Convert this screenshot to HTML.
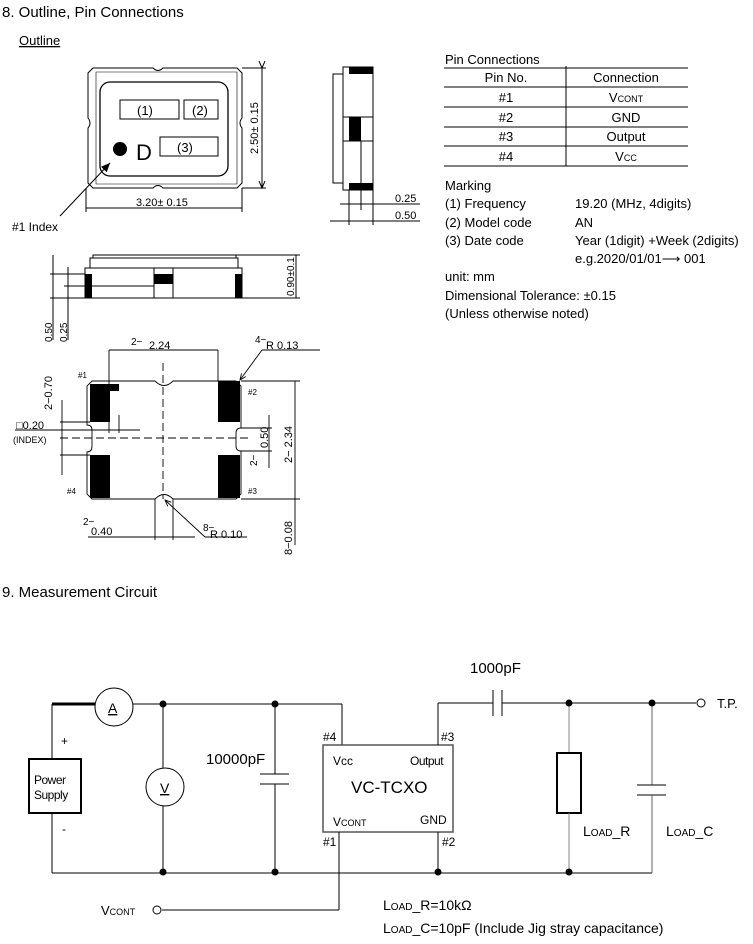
<!DOCTYPE html>
<html><head><meta charset="utf-8"><style>
body{margin:0;background:#fff}
svg{display:block}
text{font-family:"Liberation Sans",Arial,sans-serif;fill:#000}
</style></head><body>
<svg width="753" height="944" viewBox="0 0 753 944" xmlns="http://www.w3.org/2000/svg">
<defs>
<marker id="ar" markerWidth="8" markerHeight="8" refX="7" refY="4" orient="auto"><path d="M0,1 L7,4 L0,7" fill="none" stroke="#000" stroke-width="1"/></marker>
<marker id="af" markerWidth="10" markerHeight="8" refX="9" refY="4" orient="auto"><path d="M0,0 L9,4 L0,8 z" fill="#000"/></marker>
</defs>
<text x="2" y="17" font-size="15">8. Outline, Pin Connections</text>
<text x="19" y="45" font-size="13" text-decoration="underline">Outline</text>

<!-- top view -->
<g fill="none" stroke="#000" stroke-width="1">
<path d="M93,68 H153 Q158,73 163,68 H237 L242,73 V118 Q238,123 242,128 V183 L237,188 H163 Q158,183 153,188 H93 L88,183 V128 Q92,123 88,118 V73 Z"/>
<path d="M96,72 H237 V184 H96 Z" stroke-width="0.6"/>
<rect x="100" y="82" width="128" height="94" rx="10" stroke-width="1.3"/>
<rect x="120" y="100" width="59" height="19"/>
<rect x="184" y="100" width="34" height="19"/>
<rect x="160" y="137" width="58" height="19"/>
<line x1="242" y1="68" x2="266" y2="68"/><line x1="242" y1="188" x2="266" y2="188"/>
<line x1="262" y1="68" x2="262" y2="188" marker-start="url(#ar)" marker-end="url(#ar)"/>
<line x1="86" y1="188" x2="86" y2="212"/><line x1="242" y1="188" x2="242" y2="212"/>
<line x1="86" y1="208" x2="242" y2="208"/>
<line x1="60" y1="216" x2="110" y2="163" marker-end="url(#af)"/>
</g>
<circle cx="120" cy="149" r="7" fill="#000"/>
<text x="136" y="160" font-size="22">D</text>
<text x="137" y="115" font-size="13">(1)</text>
<text x="192" y="115" font-size="13">(2)</text>
<text x="177" y="152" font-size="13">(3)</text>
<text x="136" y="206" font-size="11">3.20± 0.15</text>
<text transform="translate(258,154) rotate(-90)" font-size="11">2.50± 0.15</text>
<text x="12" y="231" font-size="12">#1 Index</text>

<!-- side view -->
<g fill="none" stroke="#000" stroke-width="1">
<rect x="333" y="74" width="10" height="109"/>
<rect x="343" y="67" width="30" height="123"/>
<line x1="343" y1="117" x2="373" y2="117"/><line x1="343" y1="141" x2="373" y2="141"/>
<line x1="361" y1="141" x2="361" y2="210"/>
<line x1="349" y1="190" x2="349" y2="225"/><line x1="373" y1="190" x2="373" y2="225"/>
<line x1="340" y1="204" x2="420" y2="204"/><line x1="330" y1="221" x2="420" y2="221"/>
</g>
<rect x="349" y="67" width="24" height="7"/><rect x="349" y="183" width="24" height="7"/>
<rect x="349" y="117" width="12" height="24"/>
<text x="395" y="202" font-size="11">0.25</text>
<text x="395" y="219" font-size="11">0.50</text>

<!-- front view -->
<g fill="none" stroke="#000" stroke-width="1">
<rect x="93" y="255" width="143" height="3"/>
<rect x="90" y="258" width="148" height="10"/>
<rect x="85" y="268" width="157" height="30"/>
<line x1="92" y1="286" x2="154" y2="286"/>
<line x1="154" y1="268" x2="154" y2="298"/><line x1="173" y1="268" x2="173" y2="298"/>
<line x1="236" y1="255" x2="300" y2="255"/><line x1="242" y1="298" x2="300" y2="298"/>
<line x1="296" y1="255" x2="296" y2="298"/>
<line x1="50" y1="274" x2="85" y2="274"/><line x1="50" y1="298" x2="85" y2="298"/><line x1="64" y1="286" x2="92" y2="286"/>
<line x1="53" y1="255" x2="53" y2="340"/><line x1="68" y1="267" x2="68" y2="340"/>
</g>
<rect x="85" y="274" width="7" height="24"/><rect x="154" y="274" width="19" height="10"/><rect x="235" y="274" width="7" height="24"/>
<text transform="translate(294,296) rotate(-90)" font-size="10">0.90±0.1</text>
<text transform="translate(52,342) rotate(-90)" font-size="10">0.50</text>
<text transform="translate(67,342) rotate(-90)" font-size="10">0.25</text>

<!-- bottom view -->
<g fill="none" stroke="#000" stroke-width="0.9">
<path d="M92,381 H155 Q164,390 173,381 H236 L241,386 V428 Q236,428 236,433 V446 Q236,451 241,451 V494 L236,499 H173 Q164,490 155,499 H92 L87,494 V452 Q92,452 92,446 V430 Q92,425 87,425 V386 Z"/>
<line x1="163" y1="363" x2="163" y2="499" stroke-dasharray="8,4"/>
<line x1="60" y1="438" x2="250" y2="438" stroke-dasharray="8,4"/>
<line x1="109" y1="350" x2="109" y2="433"/><line x1="218" y1="350" x2="218" y2="381"/>
<line x1="109" y1="350" x2="218" y2="350"/>
<line x1="241" y1="381" x2="300" y2="381"/><line x1="241" y1="499" x2="300" y2="499"/>
<line x1="295" y1="381" x2="295" y2="545"/>
<line x1="241" y1="428" x2="272" y2="428"/><line x1="241" y1="451" x2="272" y2="451"/>
<line x1="269" y1="415" x2="269" y2="468"/>
<line x1="60" y1="422" x2="90" y2="422"/><line x1="60" y1="455" x2="90" y2="455"/>
<line x1="62" y1="400" x2="62" y2="475"/>
<line x1="15" y1="430" x2="140" y2="430"/>
<line x1="119" y1="415" x2="119" y2="433"/>
<line x1="155" y1="499" x2="155" y2="540"/><line x1="173" y1="499" x2="173" y2="540"/>
<line x1="88" y1="537" x2="195" y2="537"/>
<line x1="205" y1="537" x2="247" y2="537"/><line x1="205" y1="537" x2="165" y2="500" marker-end="url(#ar)"/>
<line x1="320" y1="350" x2="262" y2="350"/><line x1="262" y1="350" x2="240" y2="380" marker-end="url(#ar)"/>
</g>
<path d="M90,384 H119 V391 H110 V422 H90 Z"/>
<rect x="90" y="455" width="20" height="43"/>
<rect x="218" y="381" width="22" height="41"/>
<rect x="218" y="455" width="22" height="43"/>
<g font-size="10">
<text x="131" y="345">2−</text><text x="149" y="349" font-size="11">2.24</text>
<text x="255" y="343">4−</text><text x="266" y="349" font-size="11">R 0.13</text>
<text x="78" y="378" font-size="8">#1</text><text x="248" y="395" font-size="8">#2</text>
<text x="67" y="494" font-size="8">#4</text><text x="248" y="494" font-size="8">#3</text>
<text x="16" y="429" font-size="11">□0.20</text>
<text x="13" y="443" font-size="9">(INDEX)</text>
<text transform="translate(52,410) rotate(-90)" font-size="11">2−0.70</text>
<text transform="translate(268,448) rotate(-90)" font-size="11">0.50</text>
<text transform="translate(257,466) rotate(-90)">2−</text>
<text transform="translate(292,463) rotate(-90)" font-size="11">2− 2.34</text>
<text x="83" y="525">2−</text><text x="91" y="535" font-size="11">0.40</text>
<text x="203" y="531">8−</text><text x="210" y="538" font-size="11">R 0.10</text>
<text transform="translate(292,555) rotate(-90)" font-size="11">8−0.08</text>
</g>

<!-- pin table -->
<text x="445" y="64" font-size="13">Pin Connections</text>
<g stroke="#000" stroke-width="1">
<line x1="444" y1="68" x2="688" y2="68"/>
<line x1="444" y1="87" x2="688" y2="87"/>
<line x1="444" y1="107" x2="688" y2="107"/>
<line x1="444" y1="127" x2="688" y2="127"/>
<line x1="444" y1="146" x2="688" y2="146"/>
<line x1="444" y1="166" x2="688" y2="166"/>
<line x1="566" y1="66" x2="566" y2="166"/>
</g>
<g font-size="13" text-anchor="middle">
<text x="506" y="82">Pin No.</text><text x="626" y="82">Connection</text>
<text x="506" y="102">#1</text><text x="626" y="102">V<tspan font-size="9">CONT</tspan></text>
<text x="506" y="122">#2</text><text x="626" y="122">GND</text>
<text x="506" y="141">#3</text><text x="626" y="141">Output</text>
<text x="506" y="161">#4</text><text x="626" y="161">V<tspan font-size="9">CC</tspan></text>
</g>
<g font-size="13">
<text x="445" y="190">Marking</text>
<text x="445" y="208">(1) Frequency</text><text x="575" y="208">19.20 (MHz, 4digits)</text>
<text x="445" y="227">(2) Model code</text><text x="575" y="227">AN</text>
<text x="445" y="245">(3) Date code</text><text x="575" y="245">Year (1digit) +Week (2digits)</text>
<text x="575" y="263">e.g.2020/01/01⟶ 001</text>
<text x="445" y="281">unit: mm</text>
<text x="445" y="300">Dimensional Tolerance: ±0.15</text>
<text x="445" y="318">(Unless otherwise noted)</text>
</g>

<!-- circuit -->
<text x="2" y="597" font-size="15">9. Measurement Circuit</text>
<g fill="none" stroke="#000" stroke-width="1">
<line x1="52" y1="704" x2="52" y2="759"/>
<line x1="52" y1="704" x2="95" y2="704" stroke-width="3"/>
<circle cx="114" cy="707" r="19"/>
<line x1="133" y1="704" x2="342" y2="704"/>
<line x1="342" y1="704" x2="342" y2="745"/>
<rect x="29" y="759" width="52" height="54" stroke-width="2"/>
<line x1="52" y1="813" x2="52" y2="873"/>
<line x1="52" y1="873" x2="652" y2="873"/>
<line x1="163" y1="704" x2="163" y2="768"/><circle cx="165" cy="787" r="19"/><line x1="163" y1="806" x2="163" y2="873"/>
<line x1="275" y1="704" x2="275" y2="774"/><line x1="260" y1="774" x2="289" y2="774"/><line x1="260" y1="784" x2="289" y2="784"/><line x1="275" y1="784" x2="275" y2="873"/>
<rect x="323" y="745" width="130" height="87" stroke="#555" stroke-width="1.5"/>
<line x1="339" y1="832" x2="339" y2="910"/><line x1="162" y1="910" x2="339" y2="910"/>
<circle cx="157" cy="910" r="4"/>
<line x1="438" y1="832" x2="438" y2="873"/>
<line x1="438" y1="703" x2="438" y2="745"/>
<line x1="438" y1="703" x2="493" y2="703"/>
<line x1="493" y1="690" x2="493" y2="716"/><line x1="502" y1="690" x2="502" y2="716"/>
<line x1="502" y1="703" x2="696" y2="703"/><circle cx="701" cy="703" r="4"/>
<line x1="569" y1="703" x2="569" y2="753" stroke="#888"/><rect x="557" y="753" width="24" height="60" stroke-width="2"/><line x1="569" y1="813" x2="569" y2="873" stroke="#888"/>
<line x1="652" y1="703" x2="652" y2="785" stroke="#666"/><line x1="637" y1="785" x2="666" y2="785"/><line x1="637" y1="795" x2="666" y2="795"/><line x1="652" y1="795" x2="652" y2="873" stroke="#666"/>
</g>
<g fill="#000">
<circle cx="163" cy="704" r="3.5"/><circle cx="275" cy="704" r="3.5"/>
<circle cx="163" cy="872" r="3.5"/><circle cx="275" cy="872" r="3.5"/>
<circle cx="438" cy="872" r="3.5"/><circle cx="569" cy="872" r="3.5"/>
<circle cx="569" cy="703" r="3.5"/><circle cx="652" cy="703" r="3.5"/>
</g>
<text x="108" y="713" font-size="14" text-decoration="underline">A</text>
<text x="160" y="793" font-size="14" text-decoration="underline">V</text>
<text x="61" y="745" font-size="12">+</text><text x="62" y="833" font-size="12">-</text>
<text x="34" y="784" font-size="12" letter-spacing="-0.5">Power</text>
<text x="34" y="799" font-size="12" letter-spacing="-0.5">Supply</text>
<text x="206" y="764" font-size="15">10000pF</text>
<text x="323" y="741" font-size="12">#4</text><text x="441" y="741" font-size="12">#3</text>
<text x="323" y="846" font-size="12">#1</text><text x="442" y="846" font-size="12">#2</text>
<text x="333" y="765" font-size="12">Vcc</text><text x="410" y="765" font-size="12" letter-spacing="-0.5">Output</text>
<text x="351" y="793" font-size="17">VC-TCXO</text>
<text x="333" y="826" font-size="12">V<tspan font-size="9">CONT</tspan></text><text x="420" y="824" font-size="12">GND</text>
<text x="470" y="673" font-size="15">1000pF</text>
<text x="717" y="708" font-size="13">T.P.</text>
<text x="583" y="836" font-size="14">L<tspan font-size="10">OAD</tspan>_R</text>
<text x="666" y="836" font-size="14">L<tspan font-size="10">OAD</tspan>_C</text>
<text x="101" y="915" font-size="13">V<tspan font-size="9">CONT</tspan></text>
<text x="383" y="910" font-size="14">L<tspan font-size="10">OAD</tspan>_R=10kΩ</text>
<text x="383" y="933" font-size="14">L<tspan font-size="10">OAD</tspan>_C=10pF (Include Jig stray capacitance)</text>
</svg>
</body></html>
